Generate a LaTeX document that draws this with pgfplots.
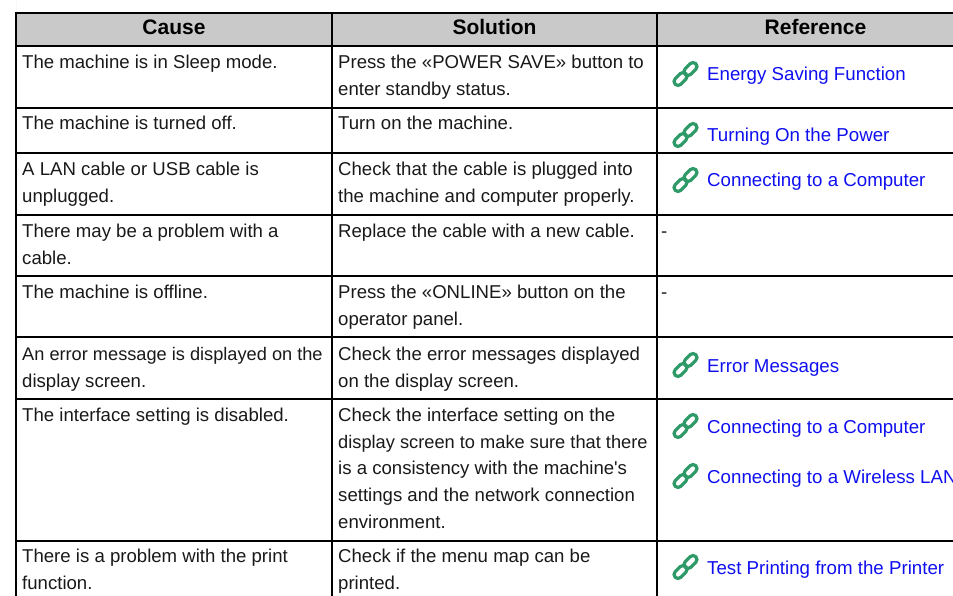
\documentclass[border=0pt]{standalone}
\usepackage{pgfplots}
\usetikzlibrary{shapes.misc}
\pgfplotsset{compat=1.18}
\usepackage{fontspec}
\setmainfont{Liberation Sans}
\definecolor{hdr}{HTML}{C9C9C9}
\definecolor{lnk}{HTML}{0F0FF0}
\definecolor{chain}{HTML}{2E9A68}
\newcommand{\T}[3]{\node[anchor=base west,inner sep=0pt,text=black!90] at (axis cs:#1,#2) {#3};}
\newcommand{\HD}[2]{\node[anchor=base,inner sep=0pt,font=\fontsize{21}{24}\selectfont\bfseries] at (axis cs:#1,35) {#2};}
\newcommand{\R}[2]{%
  \node[anchor=base west,inner sep=0pt,text=lnk,font=\fontsize{18.7}{22}\selectfont] at (axis cs:707,#1) {#2};
  \node[draw=chain,rounded rectangle,line width=3.2pt,rotate=45,minimum width=15pt,minimum height=8pt,inner sep=0pt] at (axis cs:680.5,#1-2) {};
  \node[draw=chain,rounded rectangle,line width=3.2pt,rotate=45,minimum width=15pt,minimum height=8pt,inner sep=0pt] at (axis cs:690.5,#1-12) {};
}
\begin{document}
\begin{tikzpicture}
\clip (0,0) rectangle (953pt,596pt);
\begin{axis}[at={(0,0)},anchor=south west,scale only axis,width=953pt,height=596pt,
  xmin=0,xmax=953,ymin=0,ymax=596,y dir=reverse,hide axis,clip=false,
  font=\fontsize{18.6}{22}\selectfont]
\addplot[draw=none,fill=hdr] coordinates {(16,13) (953,13) (953,46) (16,46)} \closedcycle;
% table rules
\addplot[black,line width=2.2pt] coordinates {(16,13) (953,13)};
\addplot[black,line width=2.2pt] coordinates {(16,46) (953,46)};
\addplot[black,line width=2.2pt] coordinates {(16,108) (953,108)};
\addplot[black,line width=2.2pt] coordinates {(16,153) (953,153)};
\addplot[black,line width=2.2pt] coordinates {(16,215) (953,215)};
\addplot[black,line width=2.2pt] coordinates {(16,276) (953,276)};
\addplot[black,line width=2.2pt] coordinates {(16,337) (953,337)};
\addplot[black,line width=2.2pt] coordinates {(16,399) (953,399)};
\addplot[black,line width=2.2pt] coordinates {(16,541) (953,541)};
\addplot[black,line width=2.2pt] coordinates {(16,12) (16,596)};
\addplot[black,line width=2.2pt] coordinates {(332,12) (332,596)};
\addplot[black,line width=2.2pt] coordinates {(657,12) (657,596)};
\HD{174}{Cause}
\HD{494.5}{Solution}
\HD{815.5}{Reference}
\T{22}{69}{The machine is in Sleep mode.}
\T{22}{130}{The machine is turned off.}
\T{22}{176}{A LAN cable or USB cable is}
\T{22}{203}{unplugged.}
\T{22}{237}{There may be a problem with a}
\T{22}{264}{cable.}
\T{22}{298}{The machine is offline.}
\T{22}{360}{\fontsize{18.2}{22}\selectfont An error message is displayed on the}
\T{22}{387}{display screen.}
\T{22}{421}{The interface setting is disabled.}
\T{22}{562}{There is a problem with the print}
\T{22}{589}{function.}
\T{338}{69}{Press the «POWER SAVE» button to}
\T{338}{96}{enter standby status.}
\T{338}{130}{Turn on the machine.}
\T{338}{176}{Check that the cable is plugged into}
\T{338}{203}{the machine and computer properly.}
\T{338}{237}{Replace the cable with a new cable.}
\T{338}{298}{Press the «ONLINE» button on the}
\T{338}{325}{operator panel.}
\T{338}{360}{Check the error messages displayed}
\T{338}{387}{on the display screen.}
\T{338}{421}{Check the interface setting on the}
\T{338}{448}{\fontsize{18.25}{22}\selectfont display screen to make sure that there}
\T{338}{474}{is a consistency with the machine\textquotesingle s}
\T{338}{501}{settings and the network connection}
\T{338}{528}{environment.}
\T{338}{562}{Check if the menu map can be}
\T{338}{589}{printed.}
\T{661}{237}{-}
\T{661}{298}{-}
\R{81}{Energy Saving Function}
\R{142}{Turning On the Power}
\R{187}{Connecting to a Computer}
\R{372}{Error Messages}
\R{433}{Connecting to a Computer}
\R{483}{Connecting to a Wireless LAN}
\R{574}{Test Printing from the Printer}
\end{axis}
\end{tikzpicture}
\end{document}
